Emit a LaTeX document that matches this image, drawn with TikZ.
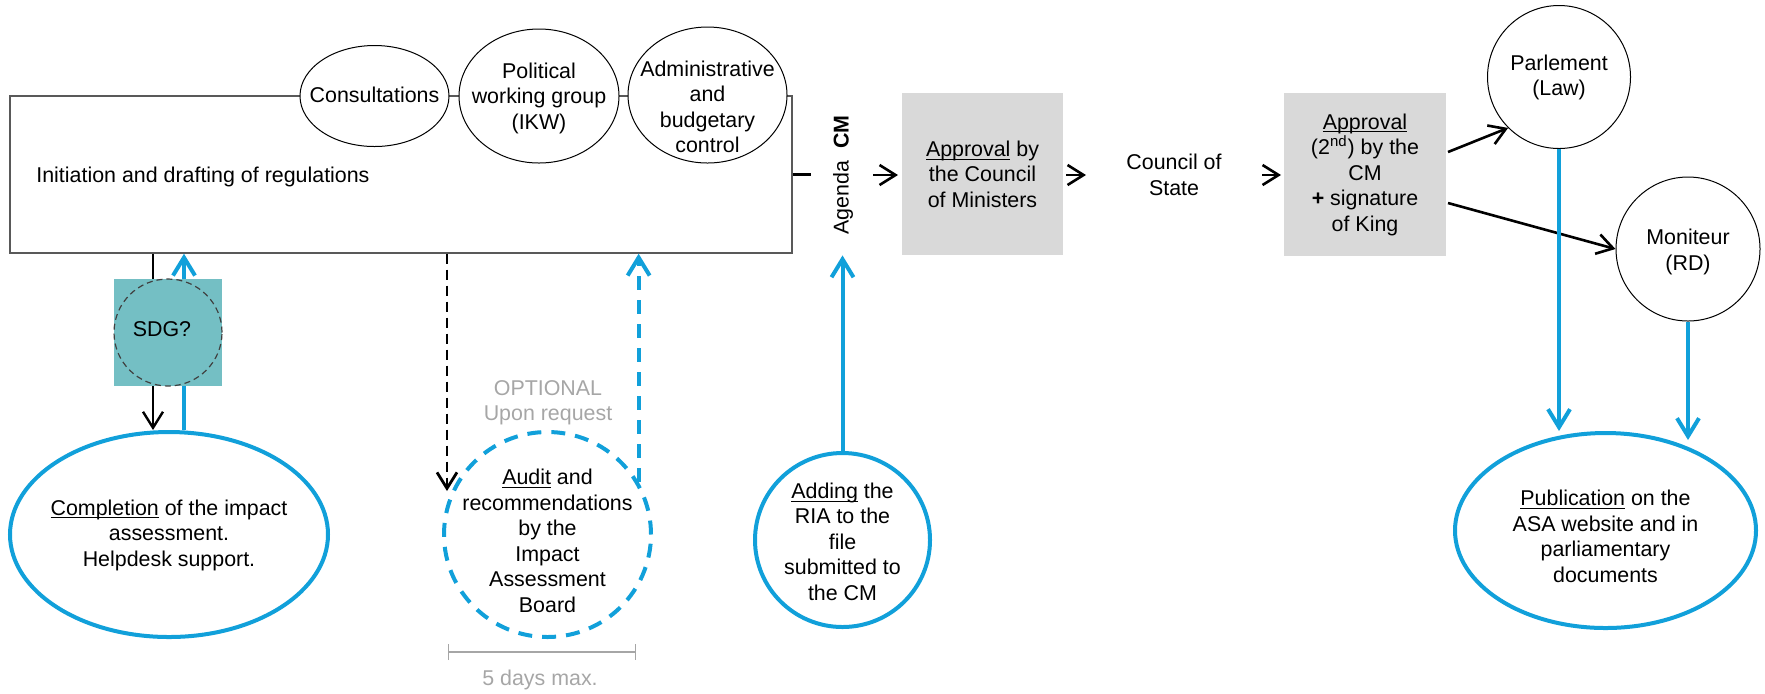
\documentclass[tikz,border=0pt]{standalone}
\usepackage{fontspec}
\setmainfont{Liberation Sans}
\usepackage{tikz}
\usetikzlibrary{arrows.meta,shapes.geometric}

\definecolor{riablue}{RGB}{17,160,218}
\definecolor{sdgteal}{RGB}{116,191,196}
\definecolor{stepgray}{RGB}{217,217,217}
\definecolor{notegray}{RGB}{166,166,166}

% underline that crosses the descenders, as in the original
\newcommand{\undl}[1]{\setbox0\hbox{#1}\rlap{\rule[-1.7pt]{\wd0}{0.5pt}}#1}

\tikzset{
  txt/.style={font=\fontsize{10.7pt}{12.75pt}\selectfont, inner sep=0pt, align=center},
  bub/.style={ellipse, draw, line width=0.5pt, fill=white, inner sep=0pt},
  bluebub/.style={ellipse, draw=riablue, line width=2pt, fill=white, inner sep=0pt},
  graybox/.style={txt, rectangle, fill=stepgray},
  blk/.style={line width=1.3pt, -{Straight Barb[length=8pt,width=10pt]}},
  blu/.style={riablue, line width=2pt, -{Straight Barb[length=9pt,width=11pt]}},
}

\begin{document}
\begin{tikzpicture}[x=0.5pt,y=0.5pt,yscale=-1,xscale=1]
        \useasboundingbox (0,0) rectangle (1765,693);

        %Shape: Rectangle [initiation box]
        \node[txt, draw=black!65, line width=0.7pt, minimum width=391pt, minimum height=78.5pt] (initbox) at (401,174.5) {};
        % Text Node
        \node[txt, anchor=west] (inittxt) at (36,177) {Initiation and drafting of regulations};

        %Shape: Ellipse [top steps]
        \node[bub, minimum width=74.5pt, minimum height=50.5pt] (cons) at (374.5,96) {};
        \node[bub, minimum width=80pt, minimum height=67pt] (ikw) at (539,96) {};
        \node[bub, minimum width=79.5pt, minimum height=68pt] (admin) at (707.5,95) {};
        % Text Node
        \node[txt] (constxt) at (374.5,95) {Consultations};
        \node[txt] (ikwtxt) at (539,98) {Political\\working group\\(IKW)};
        \node[txt] (admintxt) at (707.5,107) {Administrative\\and\\budgetary\\control};

        %Straight Lines [agenda]
        \coordinate (tick) at (811,174.5);
        \draw[line width=1.3pt] (initbox.east) -- (tick);
        % Text Node
        \node[txt, rotate=90] (agenda) at (843,175) {Agenda\hspace{0.55em}\textbf{CM}};

        %Shape: Rectangle [approvals]
        \node[graybox, minimum width=80.5pt, minimum height=81pt] (approval) at (982.5,174) {\undl{Approval} by\\the Council\\of Ministers};
        \node[txt] (council) at (1174,175) {Council of\\State};
        \node[graybox, minimum width=81pt, minimum height=81.5pt] (approval2) at (1365,174.5) {\undl{Approval}\\(2\textsuperscript{nd}) by the\\CM\\\textbf{+} signature\\of King};

        %Straight Lines [short arrows]
        \coordinate (a1s) at (873,175);
        \coordinate (a1e) at (898,175);
        \coordinate (a2s) at (1066,175);
        \coordinate (a2e) at (1086,175);
        \coordinate (a3s) at (1262,175);
        \coordinate (a3e) at (1281,175);
        \draw[blk] (a1s) -- (a1e);
        \draw[blk] (a2s) -- (a2e);
        \draw[blk] (a3s) -- (a3e);

        %Shape: Circle [outcome]
        \node[bub, minimum width=71.5pt, minimum height=71.5pt] (parl) at (1559,77) {};
        \node[bub, minimum width=72pt, minimum height=72pt] (mon) at (1688,249) {};
        \node[txt] (parltxt) at (1559,77.5) {Parlement\\(Law)};
        \node[txt] (montxt) at (1688,252) {Moniteur\\(RD)};
        \coordinate (p2s) at (1448,152);
        \coordinate (m2s) at (1448,203);
        \draw[blk] (p2s) -- (parl.225);
        \draw[blk] (m2s) -- (mon.west);

        %Shape: Ellipse [publication]
        \node[bluebub, minimum width=150.5pt, minimum height=97.5pt] (pub) at (1605.5,530.5) {};
        \node[txt] (pubtxt) at (1605.5,536.5) {\undl{Publication} on the\\ASA website and in\\parliamentary\\documents};
        \coordinate (pubin1) at (1559,431);
        \coordinate (pubin2) at (1688,440);
        \draw[blu] (parl.south) -- (pubin1);
        \draw[blu] (mon.south) -- (pubin2);

        %Shape: Ellipse [completion]
        \node[bluebub, minimum width=159pt, minimum height=102.5pt] (compl) at (169,534.5) {};
        \node[txt] (compltxt) at (169,535) {\undl{Completion} of the impact\\assessment.\\Helpdesk support.};
        %Shape: Square [sdg]
        \coordinate (sdgc) at (168,332.5);
        \draw[blu] ([xshift=8pt]sdgc |- compl.north) -- ([xshift=8pt]sdgc |- initbox.south);
        \node[txt, rectangle, fill=sdgteal, minimum width=54pt, minimum height=53.5pt] (sdg) at (sdgc) {};
        \node[txt, ellipse, draw=black!75, densely dashed, line width=0.6pt, minimum width=54pt, minimum height=53.5pt] (sdgring) at (sdgc) {};
        \node[txt] (sdgtxt) at (162,329) {SDG?};
        \draw[line width=1.2pt] ([xshift=-7.5pt]sdg.north |- initbox.south) -- ([xshift=-7.5pt]sdg.north);
        \draw[blk, line width=1.2pt] ([xshift=-7.5pt]sdg.south) -- ([xshift=-7.5pt]sdg.south |- compl.north);

        %Shape: Circle [audit]
        \node[bluebub, dash pattern=on 7pt off 5pt, minimum width=103.5pt, minimum height=102.5pt] (audit) at (547.5,534.5) {};
        \node[txt] (audittxt) at (547.5,541) {\undl{Audit} and\\recommendations\\by the\\Impact\\Assessment\\Board};
        \coordinate (req) at (447,491);
        \draw[blk, line width=1.4pt, dash pattern=on 5pt off 3pt] (req |- initbox.south) -- (req);
        \draw[blu, dash pattern=on 7pt off 5pt] (audit.30) -- (audit.30 |- initbox.south);
        % Text Node
        \node[txt, text=notegray] (optional) at (548,402.5) {OPTIONAL\\Upon request};
        \coordinate (barL) at (448,652);
        \coordinate (barR) at (636,652);
        \draw[notegray, line width=0.6pt, {Bar[width=8pt]}-{Bar[width=8pt]}] (barL) -- (barR);
        % Text Node
        \node[txt, text=notegray] (days) at (540,680) {5 days max.};

        %Shape: Circle [adding]
        \node[bluebub, minimum width=87.5pt, minimum height=87pt] (adding) at (842.5,540) {};
        \node[txt] (addingtxt) at (842.5,541.5) {\undl{Adding} the\\RIA to the\\file\\submitted to\\the CM};
        \draw[blu] (adding.north) -- (adding.north |- approval.south);

\end{tikzpicture}
\end{document}
